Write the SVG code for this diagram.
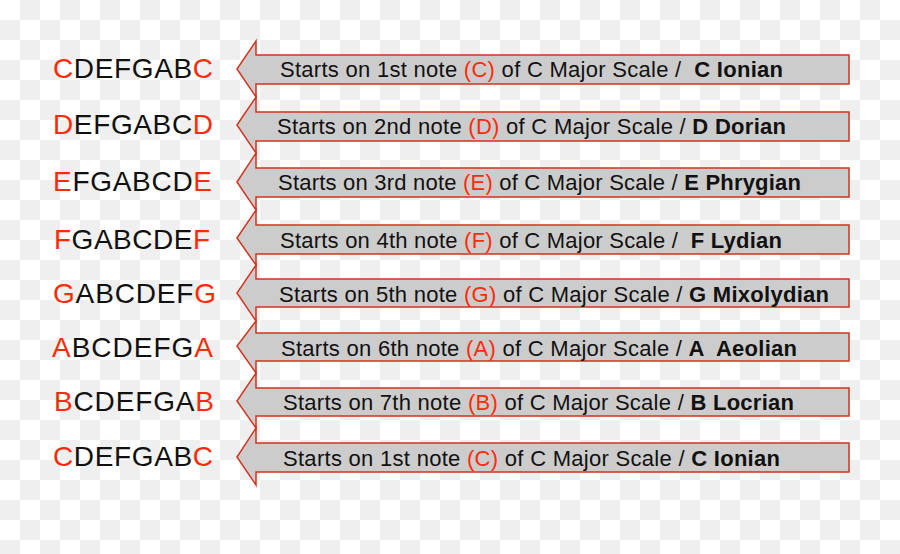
<svg xmlns="http://www.w3.org/2000/svg" width="900" height="554" viewBox="0 0 900 554">
<defs>
<pattern id="chk" width="40" height="40" patternUnits="userSpaceOnUse">
<rect width="40" height="40" fill="#ffffff"/>
<rect x="20" y="0" width="20" height="20" fill="#efefef"/>
<rect x="0" y="20" width="20" height="20" fill="#efefef"/>
</pattern>
<style>
.arr{fill:#cccccc;stroke:#d4321c;stroke-width:1.5;stroke-linejoin:miter}
.lbl{font-family:"Liberation Sans",Arial,sans-serif;font-size:28px;fill:#111111}
.txt{font-family:"Liberation Sans",Arial,sans-serif;font-size:22px;fill:#111111;white-space:pre}
.r{fill:#ff2a0a}
.b{font-weight:bold}
</style>
</defs>
<rect width="900" height="554" fill="url(#chk)"/>
<g id="connectors"></g>
<g id="row1">
<polygon class="arr" points="256,41 256,55 849,55 849,84 256,84 256,97 237,69"/>
<text class="lbl" x="53" y="78" textLength="160" lengthAdjust="spacing"><tspan class="r">C</tspan>DEFGAB<tspan class="r">C</tspan></text>
<text class="txt" x="280" y="77" xml:space="preserve" textLength="503" lengthAdjust="spacing">Starts on 1st note <tspan class="r">(C)</tspan> of C Major Scale /  <tspan class="b">C Ionian</tspan></text>
</g>
<g id="row2">
<polygon class="arr" points="256,97 256,112 849,112 849,141 256,141 256,153 237,125"/>
<text class="lbl" x="53" y="134" textLength="160" lengthAdjust="spacing"><tspan class="r">D</tspan>EFGABC<tspan class="r">D</tspan></text>
<text class="txt" x="277" y="134" xml:space="preserve" textLength="509" lengthAdjust="spacing">Starts on 2nd note <tspan class="r">(D)</tspan> of C Major Scale / <tspan class="b">D Dorian</tspan></text>
</g>
<g id="row3">
<polygon class="arr" points="256,153 256,168 849,168 849,197 256,197 256,210 237,182"/>
<text class="lbl" x="53" y="191" textLength="159" lengthAdjust="spacing"><tspan class="r">E</tspan>FGABCD<tspan class="r">E</tspan></text>
<text class="txt" x="278" y="190" xml:space="preserve" textLength="523" lengthAdjust="spacing">Starts on 3rd note <tspan class="r">(E)</tspan> of C Major Scale / <tspan class="b">E Phrygian</tspan></text>
</g>
<g id="row4">
<polygon class="arr" points="256,210 256,225 849,225 849,254 256,254 256,265 237,238"/>
<text class="lbl" x="54" y="249" textLength="156" lengthAdjust="spacing"><tspan class="r">F</tspan>GABCDE<tspan class="r">F</tspan></text>
<text class="txt" x="280" y="248" xml:space="preserve" textLength="502" lengthAdjust="spacing">Starts on 4th note <tspan class="r">(F)</tspan> of C Major Scale /  <tspan class="b">F Lydian</tspan></text>
</g>
<g id="row5">
<polygon class="arr" points="256,265 256,279 849,279 849,307 256,307 256,321 237,293"/>
<text class="lbl" x="53" y="303" textLength="163" lengthAdjust="spacing"><tspan class="r">G</tspan>ABCDEF<tspan class="r">G</tspan></text>
<text class="txt" x="279" y="302" xml:space="preserve" textLength="550" lengthAdjust="spacing">Starts on 5th note <tspan class="r">(G)</tspan> of C Major Scale / <tspan class="b">G Mixolydian</tspan></text>
</g>
<g id="row6">
<polygon class="arr" points="256,321 256,333 849,333 849,361 256,361 256,373 237,346"/>
<text class="lbl" x="52" y="357" textLength="161" lengthAdjust="spacing"><tspan class="r">A</tspan>BCDEFG<tspan class="r">A</tspan></text>
<text class="txt" x="281" y="356" xml:space="preserve" textLength="516" lengthAdjust="spacing">Starts on 6th note <tspan class="r">(A)</tspan> of C Major Scale / <tspan class="b">A  Aeolian</tspan></text>
</g>
<g id="row7">
<polygon class="arr" points="256,373 256,388 849,388 849,416 256,416 256,428 237,401"/>
<text class="lbl" x="54" y="411" textLength="160" lengthAdjust="spacing"><tspan class="r">B</tspan>CDEFGA<tspan class="r">B</tspan></text>
<text class="txt" x="283" y="410" xml:space="preserve" textLength="511" lengthAdjust="spacing">Starts on 7th note <tspan class="r">(B)</tspan> of C Major Scale / <tspan class="b">B Locrian</tspan></text>
</g>
<g id="row8">
<polygon class="arr" points="256,428 256,443 849,443 849,472 256,472 256,485 237,457"/>
<text class="lbl" x="53" y="466" textLength="160" lengthAdjust="spacing"><tspan class="r">C</tspan>DEFGAB<tspan class="r">C</tspan></text>
<text class="txt" x="283" y="466" xml:space="preserve" textLength="497" lengthAdjust="spacing">Starts on 1st note <tspan class="r">(C)</tspan> of C Major Scale / <tspan class="b">C Ionian</tspan></text>
</g>
</svg>
